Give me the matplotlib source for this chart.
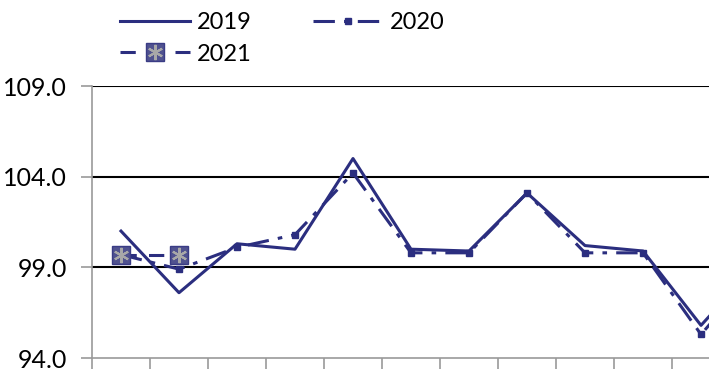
import numpy as np
import matplotlib.pyplot as plt
import matplotlib

plt.rcParams['font.family'] = ['Lato', 'DejaVu Sans']

# 月份（第12个月在图外，被裁掉）
months = np.arange(1, 13)
v2019 = [101.0, 97.6, 100.3, 100.0, 105.0, 100.0, 99.9, 103.1, 100.2, 99.9, 95.8, 99.3]
v2020 = [99.7, 98.9, 100.1, 100.8, 104.2, 99.8, 99.8, 103.1, 99.8, 99.8, 95.3, 99.0]
v2021 = [99.7, 99.7]
yticks = [94.0, 99.0, 104.0, 109.0]

navy = '#2b2e7f'
grey = '#9a9a9a'

fig = plt.figure(figsize=(7.09, 3.72), dpi=100)
# 右侧超出画布，与原图一样被裁切
ax = fig.add_axes([92/709, 14/372, 696/709, 272/372])

l19, = ax.plot(months, v2019, color=navy, linewidth=2.2, label='2019')
l20, = ax.plot(months, v2020, color=navy, linewidth=2.2, dashes=(7, 3, 1.5, 3),
               marker='s', markersize=4, label='2020')
l21, = ax.plot(months[:2], v2021, color=navy, linewidth=2.2, dashes=(5, 4),
               marker='s', markersize=13, markerfacecolor='#50528f',
               markeredgecolor='#3a3c85', label='2021')
# 方块里的灰色星形
star, = ax.plot(months[:2], v2021, linestyle='none', marker=(6, 2, 0), markersize=11,
                markeredgecolor='#a8a8a8', markeredgewidth=1.5)

ax.set_xlim(0.5, 12.5)
ax.set_ylim(94, 109)
ax.set_yticks(yticks)
ax.set_yticklabels(['%.1f' % t for t in yticks])
ax.set_xticks(np.arange(0.5, 13, 1))
ax.set_xticklabels([])
ax.tick_params(axis='x', direction='out', length=8, color=grey, width=1.2)
ax.tick_params(axis='y', direction='out', length=8, color=grey, width=1.2,
               labelsize=18, pad=10)
for y in yticks[1:]:
    ax.axhline(y, color='black', linewidth=1.5, zorder=0)
for s in ['top', 'right']:
    ax.spines[s].set_visible(False)
ax.spines['left'].set_color(grey)
ax.spines['bottom'].set_color(grey)
ax.spines['left'].set_linewidth(1.2)
ax.spines['bottom'].set_linewidth(1.2)

# 图例按行排列：2019、2020 / 2021
leg = fig.legend([l19, (l21, star), l20], ['2019', '2021', '2020'],
                 loc='upper left', bbox_to_anchor=(120/709, 1 - 12/372), ncol=2,
                 frameon=False, fontsize=17, handlelength=2.95, columnspacing=2.6,
                 labelspacing=0.45, handletextpad=0.3, borderpad=0, borderaxespad=0)

fig.savefig('out.png', dpi=100)
